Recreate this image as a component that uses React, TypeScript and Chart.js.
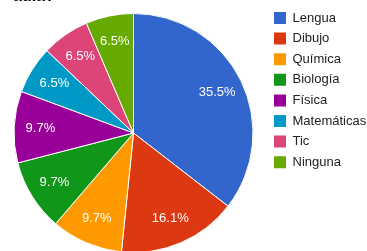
import React, { useEffect, useRef } from "react";
import { Chart, registerables } from "chart.js";

Chart.register(...registerables);

const categories = ["Lengua", "Dibujo", "Química", "Biología", "Física", "Matemáticas", "Tic", "Ninguna"];
const votes = [11, 5, 3, 3, 3, 2, 2, 2];
const colors = ["#3366cc", "#dc3912", "#ff9900", "#109618", "#990099", "#0099c6", "#dd4477", "#66aa00"];
const titleText = "aula?";

const FONT = '"Liberation Sans", Arial, sans-serif';
const CW = 400;
const CH = 263;

const pieLabels = {
  id: "pieLabels",
  afterDatasetsDraw(chart: any) {
    const ctx = chart.ctx;
    const meta = chart.getDatasetMeta(0);
    const data = chart.data.datasets[0].data as number[];
    const total = data.reduce((a, b) => a + b, 0);
    ctx.save();
    ctx.fillStyle = "#ffffff";
    ctx.font = `13px ${FONT}`;
    ctx.textAlign = "center";
    ctx.textBaseline = "middle";
    meta.data.forEach((arc: any, i: number) => {
      const p = arc.getProps(["x", "y", "startAngle", "endAngle", "outerRadius"], true);
      const mid = (p.startAngle + p.endAngle) / 2;
      const r = p.outerRadius * 0.78;
      const tx = p.x + Math.cos(mid) * r;
      const ty = p.y + Math.sin(mid) * r;
      ctx.fillText(((data[i] / total) * 100).toFixed(1) + "%", tx, ty);
    });
    ctx.restore();
  },
};

export default function App() {
  const ref = useRef<HTMLCanvasElement>(null);
  useEffect(() => {
    const canvas = ref.current!;
    const mctx = document.createElement("canvas").getContext("2d")!;
    mctx.font = `13px ${FONT}`;
    const tw = Math.max(...categories.map((c) => mctx.measureText(c).width));
    const pad = 7.6;
    const legendLeft = 274 - pad;
    const legendWidth = pad + 12 + 6.5 + tw + 10;
    const padRight = CW - legendLeft - legendWidth;
    const cx = 133.5;
    const cy = 133;
    const padTop = 11.5 - pad;
    const padLeft = 2 * cx - legendLeft;
    const padBottom = CH - (2 * cy - padTop);

    const defaultGen = (Chart as any).overrides.pie.plugins.legend.labels.generateLabels;
    const chart = new Chart(canvas, {
      type: "pie",
      data: {
        labels: categories,
        datasets: [
          {
            data: votes,
            backgroundColor: colors,
            borderColor: "#ffffff",
            borderWidth: 1,
            radius: 119.5,
          } as any,
        ],
      },
      options: {
        responsive: false,
        animation: false,
        devicePixelRatio: 1,
        layout: { padding: { left: padLeft, right: padRight, top: padTop, bottom: padBottom } },
        plugins: {
          title: { display: false },
          tooltip: { enabled: false },
          legend: {
            position: "right",
            align: "start",
            labels: {
              boxWidth: 12,
              boxHeight: 12,
              padding: pad,
              color: "#222222",
              font: { family: FONT, size: 13 },
              generateLabels: (c: any) =>
                defaultGen(c).map((it: any) => ({ ...it, lineWidth: 0, strokeStyle: "rgba(0,0,0,0)" })),
            },
          },
        },
      } as any,
      plugins: [pieLabels],
    });
    return () => chart.destroy();
  }, []);

  return (
    <div
      style={{
        position: "fixed",
        left: 0,
        top: 0,
        width: 367,
        height: 251,
        overflow: "hidden",
        background: "#ffffff",
      }}
    >
      <canvas
        ref={ref}
        width={CW}
        height={CH}
        style={{ position: "absolute", left: 0, top: 0, width: CW, height: CH }}
      />
      <div
        style={{
          position: "absolute",
          left: 13,
          top: -12.5,
          fontFamily: FONT,
          fontWeight: "bold",
          fontSize: 16,
          lineHeight: "16px",
          color: "#000000",
          whiteSpace: "nowrap",
        }}
      >
        {titleText}
      </div>
    </div>
  );
}
